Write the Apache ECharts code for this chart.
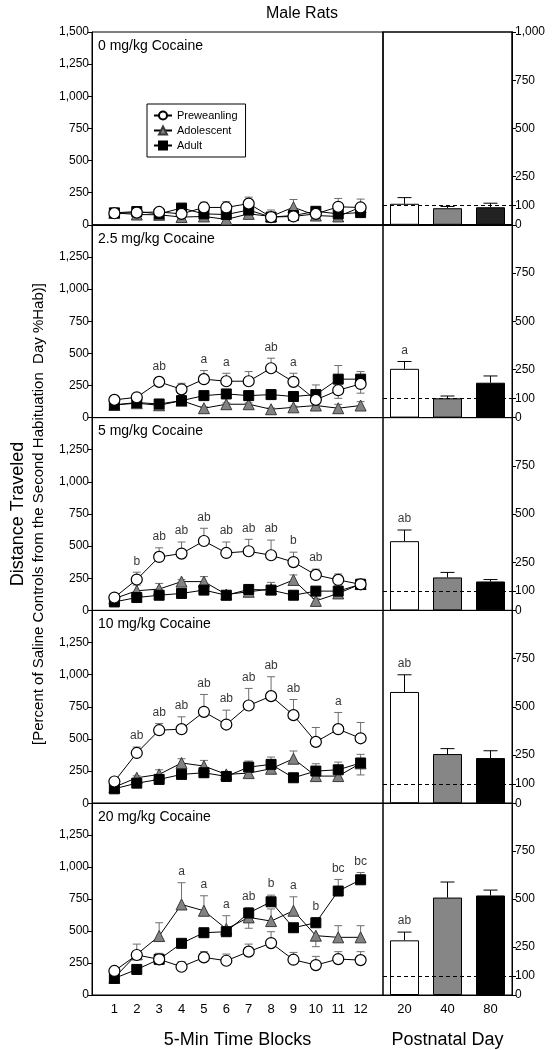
<!DOCTYPE html>
<html><head><meta charset="utf-8">
<script src="https://cdn.jsdelivr.net/npm/echarts@6/dist/echarts.min.js"></script>
<style>html,body{margin:0;padding:0;background:#fff}#c{width:556px;height:1050px}</style>
</head><body><div id="c"></div>
<script>
// ---------- DATA ----------
const blocks = [1,2,3,4,5,6,7,8,9,10,11,12];
const days = ['20','40','80'];
const groups = ['Preweanling','Adolescent','Adult'];
const doseLabels = ['0 mg/kg Cocaine','2.5 mg/kg Cocaine','5 mg/kg Cocaine','10 mg/kg Cocaine','20 mg/kg Cocaine'];
const leftTickValues = [0,250,500,750,1000,1250,1500];
const rightTickValues = [0,100,250,500,750,1000];

// 0 mg/kg
const pre_0    = [90, 95, 100, 85, 135, 135, 165, 60, 65, 85, 140, 135];
const preErr_0 = [10, 10, 10, 15, 40, 45, 50, 15, 15, 15, 65, 65];
const ado_0    = [93, 80, 78, 60, 65, 42, 85, 65, 137, 72, 65, 137];
const adoErr_0 = [10, 10, 10, 10, 10, 10, 15, 50, 60, 15, 15, 20];
const adu_0    = [93, 103, 85, 130, 85, 80, 115, 60, 72, 105, 85, 95];
const aduErr_0 = [10, 10, 10, 10, 10, 15, 20, 10, 15, 30, 20, 15];
const sig_0 = [];
// 2.5 mg/kg
const pre_2_5    = [138, 158, 278, 220, 299, 283, 283, 384, 278, 138, 213, 262];
const preErr_2_5 = [10, 10, 35, 47, 67, 62, 75, 78, 67, 15, -63, -72];
const ado_2_5    = [99, 112, 96, 132, 73, 104, 104, 65, 80, 94, 73, 94];
const adoErr_2_5 = [10, 10, 10, 15, 10, 10, 10, 10, 10, 15, 30, 30];
const adu_2_5    = [99, 117, 106, 132, 171, 184, 171, 179, 164, 179, 299, 299];
const aduErr_2_5 = [10, 10, 10, 10, 10, 10, 10, 10, 10, 75, 106, 59];
const sig_2_5 = [[3,'pre','ab'],[5,'pre','a'],[6,'pre','a'],[8,'pre','ab'],[9,'pre','a']];
// 5 mg/kg
const pre_5    = [100, 240, 416, 442, 540, 447, 460, 429, 376, 276, 237, 203];
const preErr_5 = [10, 57, 71, 90, 99, 85, 93, 118, 77, 45, 47, 10];
const ado_5    = [92, 153, 166, 224, 224, 124, 145, 166, 237, 74, 132, 205];
const adoErr_5 = [10, 44, 44, 15, 39, 10, 15, 52, 39, 20, 20, 20];
const adu_5    = [66, 100, 118, 132, 158, 118, 163, 158, 118, 150, 150, 203];
const aduErr_5 = [10, 10, 10, 10, 10, 15, 15, 15, 10, 10, 40, 40];
const sig_5 = [[2,'pre','b'],[3,'pre','ab'],[4,'pre','ab'],[5,'pre','ab'],[6,'pre','ab'],[7,'pre','ab'],[8,'pre','ab'],[9,'pre','b'],[10,'pre','ab']];
// 10 mg/kg
const pre_10    = [169, 391, 568, 576, 711, 612, 760, 833, 685, 477, 576, 505];
const preErr_10 = [10, 46, 52, 96, 135, 112, 133, 151, 122, 112, 130, 123];
const ado_10    = [125, 198, 224, 313, 289, 224, 234, 268, 346, 211, 211, 310];
const adoErr_10 = [10, 15, 36, 33, 44, 15, 47, 39, 60, -30, -30, -90];
const adu_10    = [112, 156, 185, 224, 237, 208, 281, 302, 198, 250, 260, 313];
const aduErr_10 = [10, 10, 10, 20, -35, -30, 47, 57, 10, 57, 60, 67];
const sig_10 = [[2,'pre','ab'],[3,'pre','ab'],[4,'pre','ab'],[5,'pre','ab'],[6,'pre','ab'],[7,'pre','ab'],[8,'pre','ab'],[9,'pre','ab'],[11,'pre','a']];
// 20 mg/kg
const pre_20    = [188, 313, 279, 221, 294, 268, 339, 406, 276, 234, 281, 273];
const preErr_20 = [15, 20, 47, 39, 45, 52, 59, 89, 57, 68, 58, 66];
const ado_20    = [135, 318, 461, 708, 659, 516, 607, 578, 659, 464, 451, 451];
const adoErr_20 = [10, 80, 104, 170, 117, 104, -85, 95, 109, -86, 91, 91];
const adu_20    = [130, 200, 279, 404, 487, 495, 641, 729, 526, 565, 813, 901];
const aduErr_20 = [10, 10, 10, 10, 10, 15, 41, 52, 15, 39, 91, 57];
const sig_20 = [[4,'ado','a'],[5,'ado','a'],[6,'ado','a'],[7,'adu','ab'],[8,'adu','b'],[9,'ado','a'],[10,'adu','b'],[11,'adu','bc'],[12,'adu','bc']];

// Postnatal day bars (whole session)
const bar_0 = [109, 86, 91];      const barErr_0 = [32, 9, 21];    const barSig_0 = ['', '', ''];
const bar_2_5 = [253, 100, 181];  const barErr_2_5 = [38, 12, 35]; const barSig_2_5 = ['a', '', ''];
const bar_5 = [359, 171, 150];    const barErr_5 = [58, 26, 10];   const barSig_5 = ['ab', '', ''];
const bar_10 = [577, 255, 234];   const barErr_10 = [89, 28, 38];  const barSig_10 = ['ab', '', ''];
const bar_20 = [285, 508, 519];   const barErr_20 = [43, 81, 28];  const barSig_20 = ['ab', '', ''];
const habLine = 100;

// ---------- BUILD ----------
const panels = [
  {pre:pre_0, preErr:preErr_0, ado:ado_0, adoErr:adoErr_0, adu:adu_0, aduErr:aduErr_0, sig:sig_0, bar:bar_0, barErr:barErr_0, barSig:barSig_0},
  {pre:pre_2_5, preErr:preErr_2_5, ado:ado_2_5, adoErr:adoErr_2_5, adu:adu_2_5, aduErr:aduErr_2_5, sig:sig_2_5, bar:bar_2_5, barErr:barErr_2_5, barSig:barSig_2_5},
  {pre:pre_5, preErr:preErr_5, ado:ado_5, adoErr:adoErr_5, adu:adu_5, aduErr:aduErr_5, sig:sig_5, bar:bar_5, barErr:barErr_5, barSig:barSig_5},
  {pre:pre_10, preErr:preErr_10, ado:ado_10, adoErr:adoErr_10, adu:adu_10, aduErr:aduErr_10, sig:sig_10, bar:bar_10, barErr:barErr_10, barSig:barSig_10},
  {pre:pre_20, preErr:preErr_20, ado:ado_20, adoErr:adoErr_20, adu:adu_20, aduErr:aduErr_20, sig:sig_20, bar:bar_20, barErr:barErr_20, barSig:barSig_20}
];

const FONT = 'Liberation Sans, Arial, sans-serif';
const PX = 92, DIV = 383, PR = 512, TOP0 = 32, PH = 192.8;
const barColors = ['#ffffff', '#868686', '#000000'];
const fmt = v => String(v).replace(/\B(?=(\d{3})+(?!\d))/g, ',');

const grid = [], xAxis = [], yAxis = [], series = [], graphic = [];

function errSeries(ai, data, color, capW) {
  return {
    type: 'custom', xAxisIndex: ai, yAxisIndex: ai, z: 1, silent: true,
    encode: {x: 0, y: 1},
    renderItem: (params, api) => {
      const x = api.value(0), y = api.value(1), e = api.value(2);
      const p0 = api.coord([x, y]), p1 = api.coord([x, y + e]);
      return {type: 'group', children: [
        {type: 'line', shape: {x1: p0[0], y1: p0[1], x2: p1[0], y2: p1[1]}, style: {stroke: color, lineWidth: 1}},
        {type: 'line', shape: {x1: p1[0] - capW / 2, y1: p1[1], x2: p1[0] + capW / 2, y2: p1[1]}, style: {stroke: color, lineWidth: 1}}
      ]};
    },
    data: data
  };
}

panels.forEach((P, i) => {
  const top = TOP0 + i * PH;
  const last = i === panels.length - 1;
  const L = 2 * i, R = 2 * i + 1;
  grid.push({left: PX, top: top, width: DIV - PX, height: PH, show: true, borderColor: '#000', borderWidth: 1, containLabel: false});
  grid.push({left: DIV, top: top, width: PR - DIV, height: PH, show: true, borderColor: '#000', borderWidth: i === 0 ? 1.5 : 1, containLabel: false});

  xAxis.push({
    type: 'value', gridIndex: L, min: 0, max: 13, interval: 1,
    axisLine: {show: true, lineStyle: {color: '#000'}}, axisTick: {show: false}, splitLine: {show: false},
    axisLabel: {show: last, margin: 8, fontSize: 13, color: '#000', fontFamily: FONT,
      formatter: v => (v >= 1 && v <= 12) ? String(v) : ''},
    name: last ? '5-Min Time Blocks' : '', nameLocation: 'middle', nameGap: 36,
    nameTextStyle: {fontSize: 18, color: '#000', fontFamily: FONT}
  });
  xAxis.push({
    type: 'category', gridIndex: R, data: days, boundaryGap: true,
    axisLine: {show: true, lineStyle: {color: '#000'}}, axisTick: {show: false}, splitLine: {show: false},
    axisLabel: {show: last, margin: 8, fontSize: 13, color: '#000', fontFamily: FONT},
    name: last ? 'Postnatal Day' : '', nameLocation: 'middle', nameGap: 36,
    nameTextStyle: {fontSize: 18, color: '#000', fontFamily: FONT}
  });

  const lt = i === 0 ? leftTickValues : leftTickValues.slice(0, -1);
  yAxis.push({
    type: 'value', gridIndex: L, min: 0, max: 1500, interval: 250,
    axisLine: {show: true, lineStyle: {color: '#000'}},
    axisTick: {show: true, length: 4, lineStyle: {color: '#000'}, customValues: lt},
    axisLabel: {fontSize: 12, color: '#000', margin: 3, fontFamily: FONT, customValues: lt, formatter: v => fmt(v)},
    splitLine: {show: false}
  });
  const rt = i === 0 ? rightTickValues : rightTickValues.slice(0, -1);
  yAxis.push({
    type: 'value', gridIndex: R, min: 0, max: 1000, position: 'right',
    axisLine: {show: true, lineStyle: {color: '#000'}},
    axisTick: {show: true, length: 4, lineStyle: {color: '#000'}, customValues: rt},
    axisLabel: {fontSize: 12, color: '#000', margin: 3, fontFamily: FONT, customValues: rt, formatter: v => fmt(v)},
    splitLine: {show: false}
  });

  const keys = {pre: [P.pre, P.preErr], ado: [P.ado, P.adoErr], adu: [P.adu, P.aduErr]};
  ['ado', 'adu', 'pre'].forEach(k => {
    series.push(errSeries(L, blocks.map((b, j) => [b, keys[k][0][j], keys[k][1][j]]), '#6e6e6e', 8));
  });
  series.push({
    name: groups[1], type: 'line', xAxisIndex: L, yAxisIndex: L, z: 3,
    data: blocks.map((b, j) => [b, P.ado[j]]),
    symbol: 'triangle', symbolSize: 11, showSymbol: true,
    lineStyle: {color: '#000', width: 1},
    itemStyle: {color: '#828282', borderColor: '#3a3a3a', borderWidth: 1}
  });
  series.push({
    name: groups[2], type: 'line', xAxisIndex: L, yAxisIndex: L, z: 4,
    data: blocks.map((b, j) => [b, P.adu[j]]),
    symbol: 'rect', symbolSize: 10,
    lineStyle: {color: '#000', width: 1},
    itemStyle: {color: '#000', borderColor: '#000', borderWidth: 1}
  });
  series.push({
    name: groups[0], type: 'line', xAxisIndex: L, yAxisIndex: L, z: 5,
    data: blocks.map((b, j) => [b, P.pre[j]]),
    symbol: 'circle', symbolSize: 11,
    lineStyle: {color: '#000', width: 1},
    itemStyle: {color: '#fff', borderColor: '#000', borderWidth: 1.2}
  });
  if (P.sig.length) {
    series.push({
      type: 'scatter', xAxisIndex: L, yAxisIndex: L, z: 6, silent: true, symbolSize: 0,
      data: P.sig.map(s => {
        const j = s[0] - 1, v = keys[s[1]][0][j], e = keys[s[1]][1][j];
        return [s[0], v + Math.max(e, 0), s[2]];
      }),
      label: {show: true, position: 'top', distance: 5, fontSize: 12, color: '#000', fontFamily: FONT,
        formatter: p => p.value[2]}
    });
  }
  series.push({
    type: 'bar', xAxisIndex: R, yAxisIndex: R, z: 2, barWidth: 29,
    data: P.bar.map((v, j) => ({value: v, itemStyle: {color: (i === 0 && j === 2) ? '#222' : barColors[j], borderColor: '#000', borderWidth: 1}})),
    markLine: {silent: true, symbol: ['none', 'none'], label: {show: false},
      lineStyle: {type: [4, 3], color: '#000', width: 1}, data: [{yAxis: habLine}]}
  });
  series.push(errSeries(R, P.bar.map((v, j) => [j, v, P.barErr[j]]), '#000', 14));
  const bs = P.barSig.map((t, j) => [j, P.bar[j] + P.barErr[j], t]).filter(d => d[2]);
  if (bs.length) {
    series.push({
      type: 'scatter', xAxisIndex: R, yAxisIndex: R, z: 6, silent: true, symbolSize: 0,
      data: bs,
      label: {show: true, position: 'top', distance: 5, fontSize: 12, color: '#000', fontFamily: FONT,
        formatter: p => p.value[2]}
    });
  }

  graphic.push({type: 'text', left: PX + 6, top: top + 7, silent: true,
    style: {text: doseLabels[i], fontSize: 14, fill: '#000', fontFamily: FONT}});
});

graphic.push({type: 'text', x: 302, y: 14, silent: true,
  style: {text: 'Male Rats', fontSize: 16, fill: '#000', fontFamily: FONT, textAlign: 'center', textVerticalAlign: 'middle'}});
graphic.push({type: 'text', x: 18, y: 514, rotation: Math.PI / 2, silent: true,
  style: {text: 'Distance Traveled', fontSize: 18, fill: '#000', fontFamily: FONT, textAlign: 'center', textVerticalAlign: 'middle'}});
graphic.push({type: 'text', x: 39, y: 514, rotation: Math.PI / 2, silent: true,
  style: {text: '[Percent of Saline Controls from the Second Habituation  Day %Hab)]', fontSize: 15, fill: '#000', fontFamily: FONT, textAlign: 'center', textVerticalAlign: 'middle'}});

const chart = echarts.init(document.getElementById('c'), null, {renderer: 'canvas'});
chart.setOption({
  animation: false,
  backgroundColor: '#fff',
  textStyle: {fontFamily: FONT},
  legend: {
    data: groups, orient: 'vertical', left: 147, top: 104,
    borderColor: '#000', borderWidth: 1, padding: [6, 8, 6, 6], itemGap: 4,
    itemWidth: 18, itemHeight: 10,
    textStyle: {fontSize: 11, color: '#000', fontFamily: FONT}
  },
  grid, xAxis, yAxis, series, graphic
});
</script></body></html>
